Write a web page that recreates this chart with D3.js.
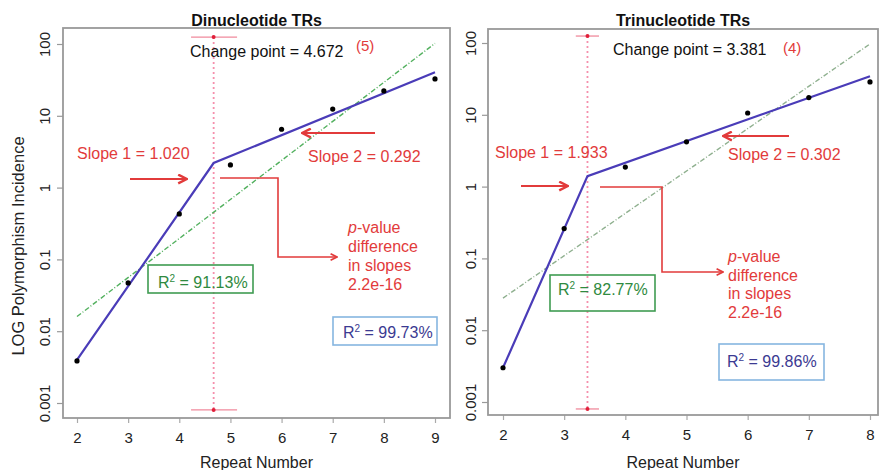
<!DOCTYPE html>
<html><head><meta charset="utf-8">
<script src="https://cdn.jsdelivr.net/npm/d3@7"></script>
<style>body{margin:0;background:#fff} text{font-family:"Liberation Sans",Arial,Helvetica,sans-serif}</style>
</head><body><svg id="c" width="881" height="470"></svg>
<script>
// ---------- data ----------
const repeatDi = [2,3,4,5,6,7,8,9];
const incidenceDi = [0.00385,0.047,0.43,2.07,6.5,12.4,22.2,32.6];
const repeatTri = [2,3,4,5,6,7,8];
const incidenceTri = [0.003,0.26,1.87,4.2,10.6,17.4,28.7];

const segXDi = [2,4.672,9];
const segYDi = [0.004,2.2,40.4];
const linXDi = [2,9];
const linYDi = [0.016,102];
const segXTri = [2,3.381,8];
const segYTri = [0.003,1.4,34.5];
const linXTri = [2,8];
const linYTri = [0.028,97];

const cpDi = 4.672, cpCIDi = [4.23,5.13];
const cpTri = 3.381, cpCITri = [3.19,3.57];
const cpBand = [0.0008,125];

const yTicks = [0.001,0.01,0.1,1,10,100];
const yTickLabels = ["0.001","0.01","0.1","1","10","100"];
const xTicksDi = [2,3,4,5,6,7,8,9];
const xTicksTri = [2,3,4,5,6,7,8];

const titles = ["Dinucleotide TRs","Trinucleotide TRs"];
const cpLabels = ["Change point = 4.672","Change point = 3.381"];
const cpNotes = ["(5)","(4)"];
const slope1Labels = ["Slope 1 = 1.020","Slope 1 = 1.933"];
const slope2Labels = ["Slope 2 = 0.292","Slope 2 = 0.302"];
const r2Linear = ["91.13%","82.77%"];
const r2Seg = ["99.73%","99.86%"];
const pLines = ["-value","difference","in slopes","2.2e-16"];

// ---------- drawing ----------
const svg = d3.select("#c");
const RED = "#e23b3b";
const defs = svg.append("defs");
defs.append("marker").attr("id","arr").attr("viewBox","0 0 10 10").attr("refX",9).attr("refY",5)
  .attr("markerWidth",5).attr("markerHeight",5).attr("orient","auto-start-reverse")
  .append("path").attr("d","M1,1 L9,5 L1,9").attr("fill","none").attr("stroke",RED).attr("stroke-width",2.2);

const panels = [
  {box:{l:63,r:450,t:28,b:418}, xd:[2,9], xr:[77,435], yr:[403,44], xs:repeatDi, ys:incidenceDi,
   segX:segXDi, segY:segYDi, linX:linXDi, linY:linYDi, cp:cpDi, ci:cpCIDi, xt:xTicksDi, green:"#52b05e",
   tickLab:50, cpText:[190,57], note:[356,51], s1:[77,158.5], s2:[308,162],
   a1:[[130,179],[187,179]], a2:[[375,133],[302,133]], br:[[220,178],[278,178],[278,257],[337,257]],
   pv:[348,233,19], gBox:[148,265,105,28], gTxt:[158,288], bBox:[333,317,104,28], bTxt:[343,338]},
  {box:{l:488,r:878,t:29,b:415}, xd:[2,8], xr:[503,870], yr:[402,43], xs:repeatTri, ys:incidenceTri,
   segX:segXTri, segY:segYTri, linX:linXTri, linY:linYTri, cp:cpTri, ci:cpCITri, xt:xTicksTri, green:"#8fb08f",
   tickLab:476, cpText:[613,55], note:[783,53], s1:[495,158], s2:[728,160],
   a1:[[521,186],[568,186]], a2:[[789,136],[723,136]], br:[[600,187],[662,187],[662,272],[723,272]],
   pv:[728,262,18.7], gBox:[550,275,105,36], gTxt:[558,295], bBox:[719,344,105,36], bTxt:[727,367]}
];

panels.forEach((p,i)=>{
  const x = d3.scaleLinear().domain(p.xd).range(p.xr);
  const y = d3.scaleLog().domain([0.001,100]).range(p.yr);
  const g = svg.append("g");
  const B = p.box;

  // title
  g.append("text").attr("x",(B.l+B.r)/2).attr("y",26).attr("text-anchor","middle")
    .attr("font-size",16).attr("font-weight","bold").attr("fill","#111").text(titles[i]);
  // x label
  g.append("text").attr("x",(B.l+B.r)/2).attr("y",468).attr("text-anchor","middle")
    .attr("font-size",16).attr("fill","#222").text("Repeat Number");

  // axes
  const ya = g.append("g").attr("transform",`translate(${B.l},0)`)
    .call(d3.axisLeft(y).tickValues(yTicks).tickSize(6).tickFormat((d,k)=>yTickLabels[k]));
  ya.select(".domain").remove();
  ya.selectAll(".tick line").attr("stroke","#999").attr("stroke-width",1.2);
  ya.selectAll(".tick text").attr("x",null).attr("dy",null).attr("text-anchor","middle")
    .attr("font-size",15).attr("fill","#222").attr("font-family",null)
    .attr("transform",function(){return `translate(${p.tickLab-B.l},0) rotate(-90)`;});
  const xa = g.append("g").attr("transform",`translate(0,${B.b})`)
    .call(d3.axisBottom(x).tickValues(p.xt).tickSize(5).tickFormat(d3.format("d")));
  xa.select(".domain").remove();
  xa.selectAll(".tick line").attr("stroke","#aaa").attr("stroke-width",1.2);
  xa.selectAll(".tick text").attr("y",25).attr("dy",null).attr("font-size",15).attr("fill","#222").attr("font-family",null);

  // plot box
  g.append("rect").attr("x",B.l).attr("y",B.t).attr("width",B.r-B.l).attr("height",B.b-B.t)
    .attr("fill","none").attr("stroke","#999").attr("stroke-width",1.8);

  // change point line & error bars
  g.append("line").attr("x1",x(p.cp)).attr("x2",x(p.cp)).attr("y1",y(cpBand[1])).attr("y2",y(cpBand[0]))
    .attr("stroke","#f590ac").attr("stroke-width",1.8).attr("stroke-dasharray","2,3");
  cpBand.forEach(v=>{
    g.append("line").attr("x1",x(p.ci[0])).attr("x2",x(p.ci[1])).attr("y1",y(v)).attr("y2",y(v))
      .attr("stroke","#f08a9c").attr("stroke-width",1.3);
    g.append("circle").attr("cx",x(p.cp)).attr("cy",y(v)).attr("r",2).attr("fill","#e0203a");
  });

  // linear fit
  const line = d3.line().x(d=>x(d[0])).y(d=>y(d[1]));
  g.append("path").attr("d",line(p.linX.map((v,k)=>[v,p.linY[k]]))).attr("fill","none")
    .attr("stroke",p.green).attr("stroke-width",1.4).attr("stroke-dasharray","5,2,1,2");
  // segmented fit
  g.append("path").attr("d",line(p.segX.map((v,k)=>[v,p.segY[k]]))).attr("fill","none")
    .attr("stroke","#4a3cb8").attr("stroke-width",2.2);
  // points
  g.selectAll("circle.pt").data(p.xs.map((v,k)=>[v,p.ys[k]])).enter().append("circle").attr("class","pt")
    .attr("cx",d=>x(d[0])).attr("cy",d=>y(d[1])).attr("r",2.6).attr("fill","#000");

  // annotations
  g.append("text").attr("x",p.cpText[0]).attr("y",p.cpText[1]).attr("font-size",16).attr("fill","#111").text(cpLabels[i]);
  g.append("text").attr("x",p.note[0]).attr("y",p.note[1]).attr("font-size",15).attr("fill",RED).text(cpNotes[i]);
  g.append("text").attr("x",p.s1[0]).attr("y",p.s1[1]).attr("font-size",16).attr("fill",RED).text(slope1Labels[i]);
  g.append("text").attr("x",p.s2[0]).attr("y",p.s2[1]).attr("font-size",16).attr("fill",RED).text(slope2Labels[i]);
  [p.a1,p.a2].forEach(a=>{
    g.append("line").attr("x1",a[0][0]).attr("y1",a[0][1]).attr("x2",a[1][0]).attr("y2",a[1][1])
      .attr("stroke",RED).attr("stroke-width",2.2).attr("marker-end","url(#arr)");
  });
  g.append("path").attr("d",d3.line()(p.br)).attr("fill","none").attr("stroke",RED).attr("stroke-width",1.6)
    .attr("marker-end","url(#arr)");
  pLines.forEach((t,k)=>{
    const tx = g.append("text").attr("x",p.pv[0]).attr("y",p.pv[1]+k*p.pv[2]).attr("font-size",16).attr("fill",RED);
    if(k===0){ tx.append("tspan").attr("font-style","italic").text("p"); tx.append("tspan").text(t); }
    else tx.text(t);
  });

  // R2 boxes
  const r2 = (bx,tx,val,stroke,fill)=>{
    g.append("rect").attr("x",bx[0]).attr("y",bx[1]).attr("width",bx[2]).attr("height",bx[3])
      .attr("fill","#fff").attr("fill-opacity",0).attr("stroke",stroke).attr("stroke-width",1.6);
    const t = g.append("text").attr("x",tx[0]).attr("y",tx[1]).attr("font-size",16).attr("fill",fill);
    t.append("tspan").text("R");
    t.append("tspan").attr("font-size",10).attr("dy",-6).text("2");
    t.append("tspan").attr("dy",6).text(" = "+val);
  };
  r2(p.gBox,p.gTxt,r2Linear[i],"#3f9c52","#2f8a40");
  r2(p.bBox,p.bTxt,r2Seg[i],"#86b6e0","#3b3a92");
});

// y axis label
svg.append("text").attr("transform","translate(24,246) rotate(-90)").attr("text-anchor","middle")
  .attr("font-size",16.5).attr("fill","#222").text("LOG Polymorphism Incidence");
</script></body></html>
